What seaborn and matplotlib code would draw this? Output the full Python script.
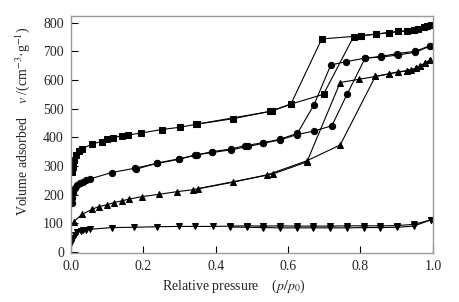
import matplotlib
matplotlib.use("Agg")
import matplotlib.pyplot as plt
import seaborn as sns
import pandas as pd

# ─────────────────────────────────────────────
# DATA
# ─────────────────────────────────────────────
sq_ads_x = [0.004, 0.006, 0.010, 0.015, 0.022, 0.030, 0.059, 0.085, 0.099, 0.117, 0.140, 0.159,
            0.195, 0.251, 0.302, 0.345, 0.449, 0.549, 0.609, 0.698, 0.781, 0.802, 0.844, 0.878,
            0.905, 0.929, 0.947, 0.959, 0.975, 0.984, 0.995]
sq_ads_y = [280, 298, 321, 338, 353, 359, 377, 385, 393, 399, 405, 408,
            415, 427, 435, 445, 465, 490, 516, 550, 751, 754, 760, 765,
            769, 770, 775, 778, 784, 788, 791]
sq_des_x = [0.995, 0.975, 0.947, 0.905, 0.878, 0.844, 0.802, 0.693, 0.608, 0.555, 0.349]
sq_des_y = [791, 784, 775, 769, 765, 760, 754, 743, 516, 491, 446]

ci_ads_x = [0.004, 0.004, 0.006, 0.011, 0.017, 0.025, 0.034, 0.043, 0.054, 0.113, 0.177, 0.239,
            0.299, 0.343, 0.391, 0.442, 0.490, 0.532, 0.578, 0.624, 0.672, 0.721, 0.763, 0.813,
            0.858, 0.905, 0.952, 0.993]
ci_ads_y = [170, 187, 205, 222, 234, 242, 245, 251, 255, 277, 292, 309,
            323, 338, 347, 356, 368, 379, 391, 409, 422, 440, 550, 676,
            680, 687, 697, 718]
ci_des_x = [0.993, 0.952, 0.901, 0.858, 0.813, 0.761, 0.718, 0.672, 0.626, 0.578, 0.532, 0.481,
            0.442, 0.391, 0.348, 0.299, 0.239, 0.181]
ci_des_y = [720, 700, 692, 682, 676, 664, 652, 514, 414, 393, 381, 371,
            359, 350, 338, 325, 310, 289]

tu_ads_x = [0.008, 0.031, 0.059, 0.077, 0.099, 0.119, 0.140, 0.160, 0.197, 0.243, 0.292, 0.337,
            0.447, 0.543, 0.652, 0.744, 0.841, 0.878, 0.905, 0.929, 0.940, 0.953, 0.965, 0.979,
            0.993]
tu_ads_y = [106, 131, 149, 158, 164, 172, 178, 184, 193, 201, 210, 217,
            243, 269, 318, 373, 612, 621, 629, 632, 636, 640, 650, 658,
            670]
tu_des_x = [0.993, 0.979, 0.965, 0.953, 0.929, 0.878, 0.841, 0.795, 0.744, 0.652, 0.558, 0.352]
tu_des_y = [670, 658, 650, 640, 632, 621, 612, 602, 591, 314, 272, 221]

td_ads_x = [0.0, 0.006, 0.011, 0.018, 0.027, 0.034, 0.043, 0.053, 0.113, 0.174, 0.237, 0.300,
            0.343, 0.393, 0.440, 0.486, 0.532, 0.578, 0.624, 0.670, 0.716, 0.763, 0.809, 0.855,
            0.901, 0.947, 0.995]
td_ads_y = [30, 48, 59, 69, 73, 75, 76, 79, 85, 86, 88, 89,
            89, 89, 90, 91, 90, 91, 90, 90, 90, 91, 91, 91,
            92, 96, 112]
td_des_x = [0.995, 0.947, 0.901, 0.855, 0.809, 0.763, 0.716, 0.670, 0.624, 0.578, 0.532, 0.486, 0.440]
td_des_y = [112, 90, 86, 85, 85, 84, 84, 84, 84, 84, 85, 86, 87]

x_ticks = [0.0, 0.2, 0.4, 0.6, 0.8, 1.0]
y_ticks = [0, 100, 200, 300, 400, 500, 600, 700, 800]

series = [
    ("s", sq_ads_x, sq_ads_y, sq_des_x, sq_des_y),
    ("o", ci_ads_x, ci_ads_y, ci_des_x, ci_des_y),
    ("^", tu_ads_x, tu_ads_y, tu_des_x, tu_des_y),
    ("v", td_ads_x, td_ads_y, td_des_x, td_des_y),
]

# ─────────────────────────────────────────────
# PLOT
# ─────────────────────────────────────────────
sns.set_style("ticks")
plt.rcParams['font.family'] = ['Liberation Serif', 'DejaVu Serif']
plt.rcParams['mathtext.fontset'] = 'stix'

fig = plt.figure(figsize=(4.6, 3.02), dpi=100)
ax = fig.add_axes([0.154, 0.162, 0.787, 0.785])

for mk, ax_x, ax_y, de_x, de_y in series:
    for xs, ys in ((ax_x, ax_y), (de_x, de_y)):
        df = pd.DataFrame({"p": xs, "v": ys})
        sns.lineplot(data=df, x="p", y="v", sort=False, estimator=None, ax=ax,
                     color="black", linewidth=0.8, marker=mk, markersize=4.5,
                     markeredgecolor="black", markerfacecolor="black")

ax.set_xlim(0, 1)
ax.set_ylim(-4, 823)
ax.set_xticks(x_ticks)
ax.set_yticks(y_ticks)
ax.set_xticklabels([f"{t:.1f}" for t in x_ticks])
ax.tick_params(direction="in", length=5, width=0.8, color="black",
               labelsize=10, top=False, right=False)
ax.tick_params(axis="x", pad=5)
ax.tick_params(axis="y", pad=5)
for sp in ax.spines.values():
    sp.set_color("#9a9a9a")
    sp.set_linewidth(1.0)

ax.set_xlabel(r"Relative pressure    ($p/p_0$)", fontsize=10)
ax.set_ylabel(r"Volume adsorbed    $v$ /(cm$^{-3}$·g$^{-1}$)", fontsize=10)
ax.xaxis.set_label_coords(0.45, -0.103)
ax.yaxis.set_label_coords(-0.108, 0.555)

fig.savefig("out.png", dpi=100)
plt.close(fig)
